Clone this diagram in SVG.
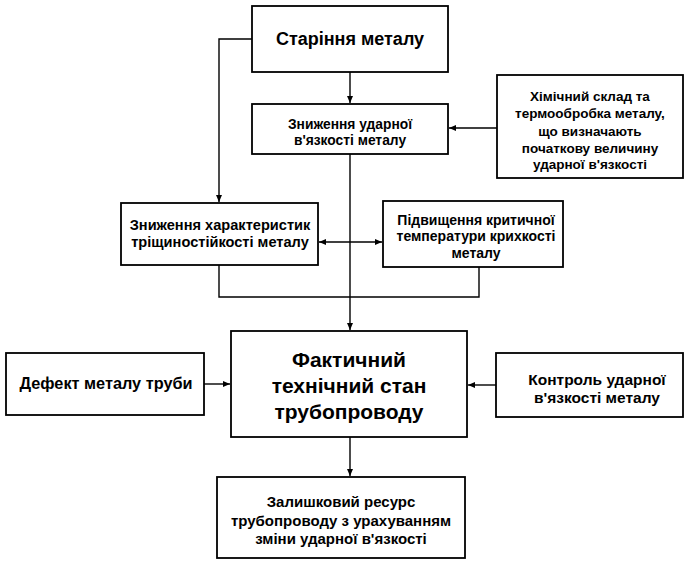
<svg xmlns="http://www.w3.org/2000/svg" width="685" height="561" viewBox="0 0 685 561">
<style>
.box{fill:#fff;stroke:#000;stroke-width:1.8}
.t{font-family:"Liberation Sans",Arial,sans-serif;font-weight:bold;fill:#000;text-anchor:middle}
.ln{fill:none;stroke:#000;stroke-width:1.4}
</style>
<defs>
<marker id="ah" markerWidth="8" markerHeight="8" refX="7" refY="4" orient="auto" markerUnits="userSpaceOnUse">
<path d="M0,1 L7,4 L0,7 Z" fill="#000"/>
</marker>
<marker id="as" markerWidth="8" markerHeight="8" refX="1" refY="4" orient="auto" markerUnits="userSpaceOnUse">
<path d="M8,1 L1,4 L8,7 Z" fill="#000"/>
</marker>
</defs>
<rect width="685" height="561" fill="#fff"/>
<g id="connectors">
<line class="ln" x1="350" y1="72" x2="350" y2="103" marker-end="url(#ah)"/>
<polyline class="ln" points="252,39 219,39 219,202" marker-end="url(#ah)"/>
<line class="ln" x1="497" y1="128" x2="449" y2="128" marker-end="url(#ah)"/>
<line class="ln" x1="350" y1="154" x2="350" y2="330" marker-end="url(#ah)"/>
<line class="ln" x1="319" y1="242" x2="382" y2="242" marker-start="url(#as)" marker-end="url(#ah)"/>
<polyline class="ln" points="219,265 219,297 479,297 479,267"/>
<line class="ln" x1="204" y1="384" x2="230" y2="384" marker-end="url(#ah)"/>
<line class="ln" x1="496" y1="385" x2="468" y2="385" marker-end="url(#ah)"/>
<line class="ln" x1="350" y1="437" x2="350" y2="476" marker-end="url(#ah)"/>
</g>
<g id="n1">
<rect class="box" x="252" y="6" width="196" height="66"/>
<text class="t" x="350" y="45" font-size="18">Старіння металу</text>
</g>
<g id="n2">
<rect class="box" x="252" y="104" width="196" height="50"/>
<text class="t" x="350" y="129" font-size="13.8">Зниження ударної</text>
<text class="t" x="350" y="145" font-size="13.8">в'язкості металу</text>
</g>
<g id="n3">
<rect class="box" x="497" y="75" width="186" height="103"/>
<text class="t" x="590" y="101" font-size="13.5">Хімічний склад та</text>
<text class="t" x="590" y="118" font-size="13.5">термообробка металу,</text>
<text class="t" x="590" y="136" font-size="13.5">що визначають</text>
<text class="t" x="590" y="153" font-size="13.5">початкову величину</text>
<text class="t" x="590" y="169" font-size="13.5">ударної в'язкості</text>
</g>
<g id="n4">
<rect class="box" x="121" y="203" width="197" height="62"/>
<text class="t" x="220" y="230" font-size="14.6">Зниження характеристик</text>
<text class="t" x="220" y="247" font-size="14.6">тріщиностійкості металу</text>
</g>
<g id="n5">
<rect class="box" x="383" y="201" width="180" height="66"/>
<text class="t" x="476" y="225" font-size="14">Підвищення критичної</text>
<text class="t" x="476" y="241" font-size="14">температури крихкості</text>
<text class="t" x="476" y="258" font-size="14">металу</text>
</g>
<g id="n6">
<rect class="box" x="6" y="353" width="198" height="62"/>
<text class="t" x="106" y="389" font-size="16.3">Дефект металу труби</text>
</g>
<g id="n7">
<rect class="box" x="231" y="331" width="236" height="106"/>
<text class="t" x="349" y="367" font-size="21">Фактичний</text>
<text class="t" x="349" y="393" font-size="21">технічний стан</text>
<text class="t" x="349" y="419" font-size="21">трубопроводу</text>
</g>
<g id="n8">
<rect class="box" x="496" y="353" width="187" height="64"/>
<text class="t" x="597" y="385" font-size="15.5">Контроль ударної</text>
<text class="t" x="597" y="403" font-size="15.5">в'язкості металу</text>
</g>
<g id="n9">
<rect class="box" x="217" y="477" width="248" height="81"/>
<text class="t" x="341" y="507" font-size="15">Залишковий ресурс</text>
<text class="t" x="341" y="526" font-size="15">трубопроводу з урахуванням</text>
<text class="t" x="341" y="544" font-size="15">зміни ударної в'язкості</text>
</g>
</svg>
